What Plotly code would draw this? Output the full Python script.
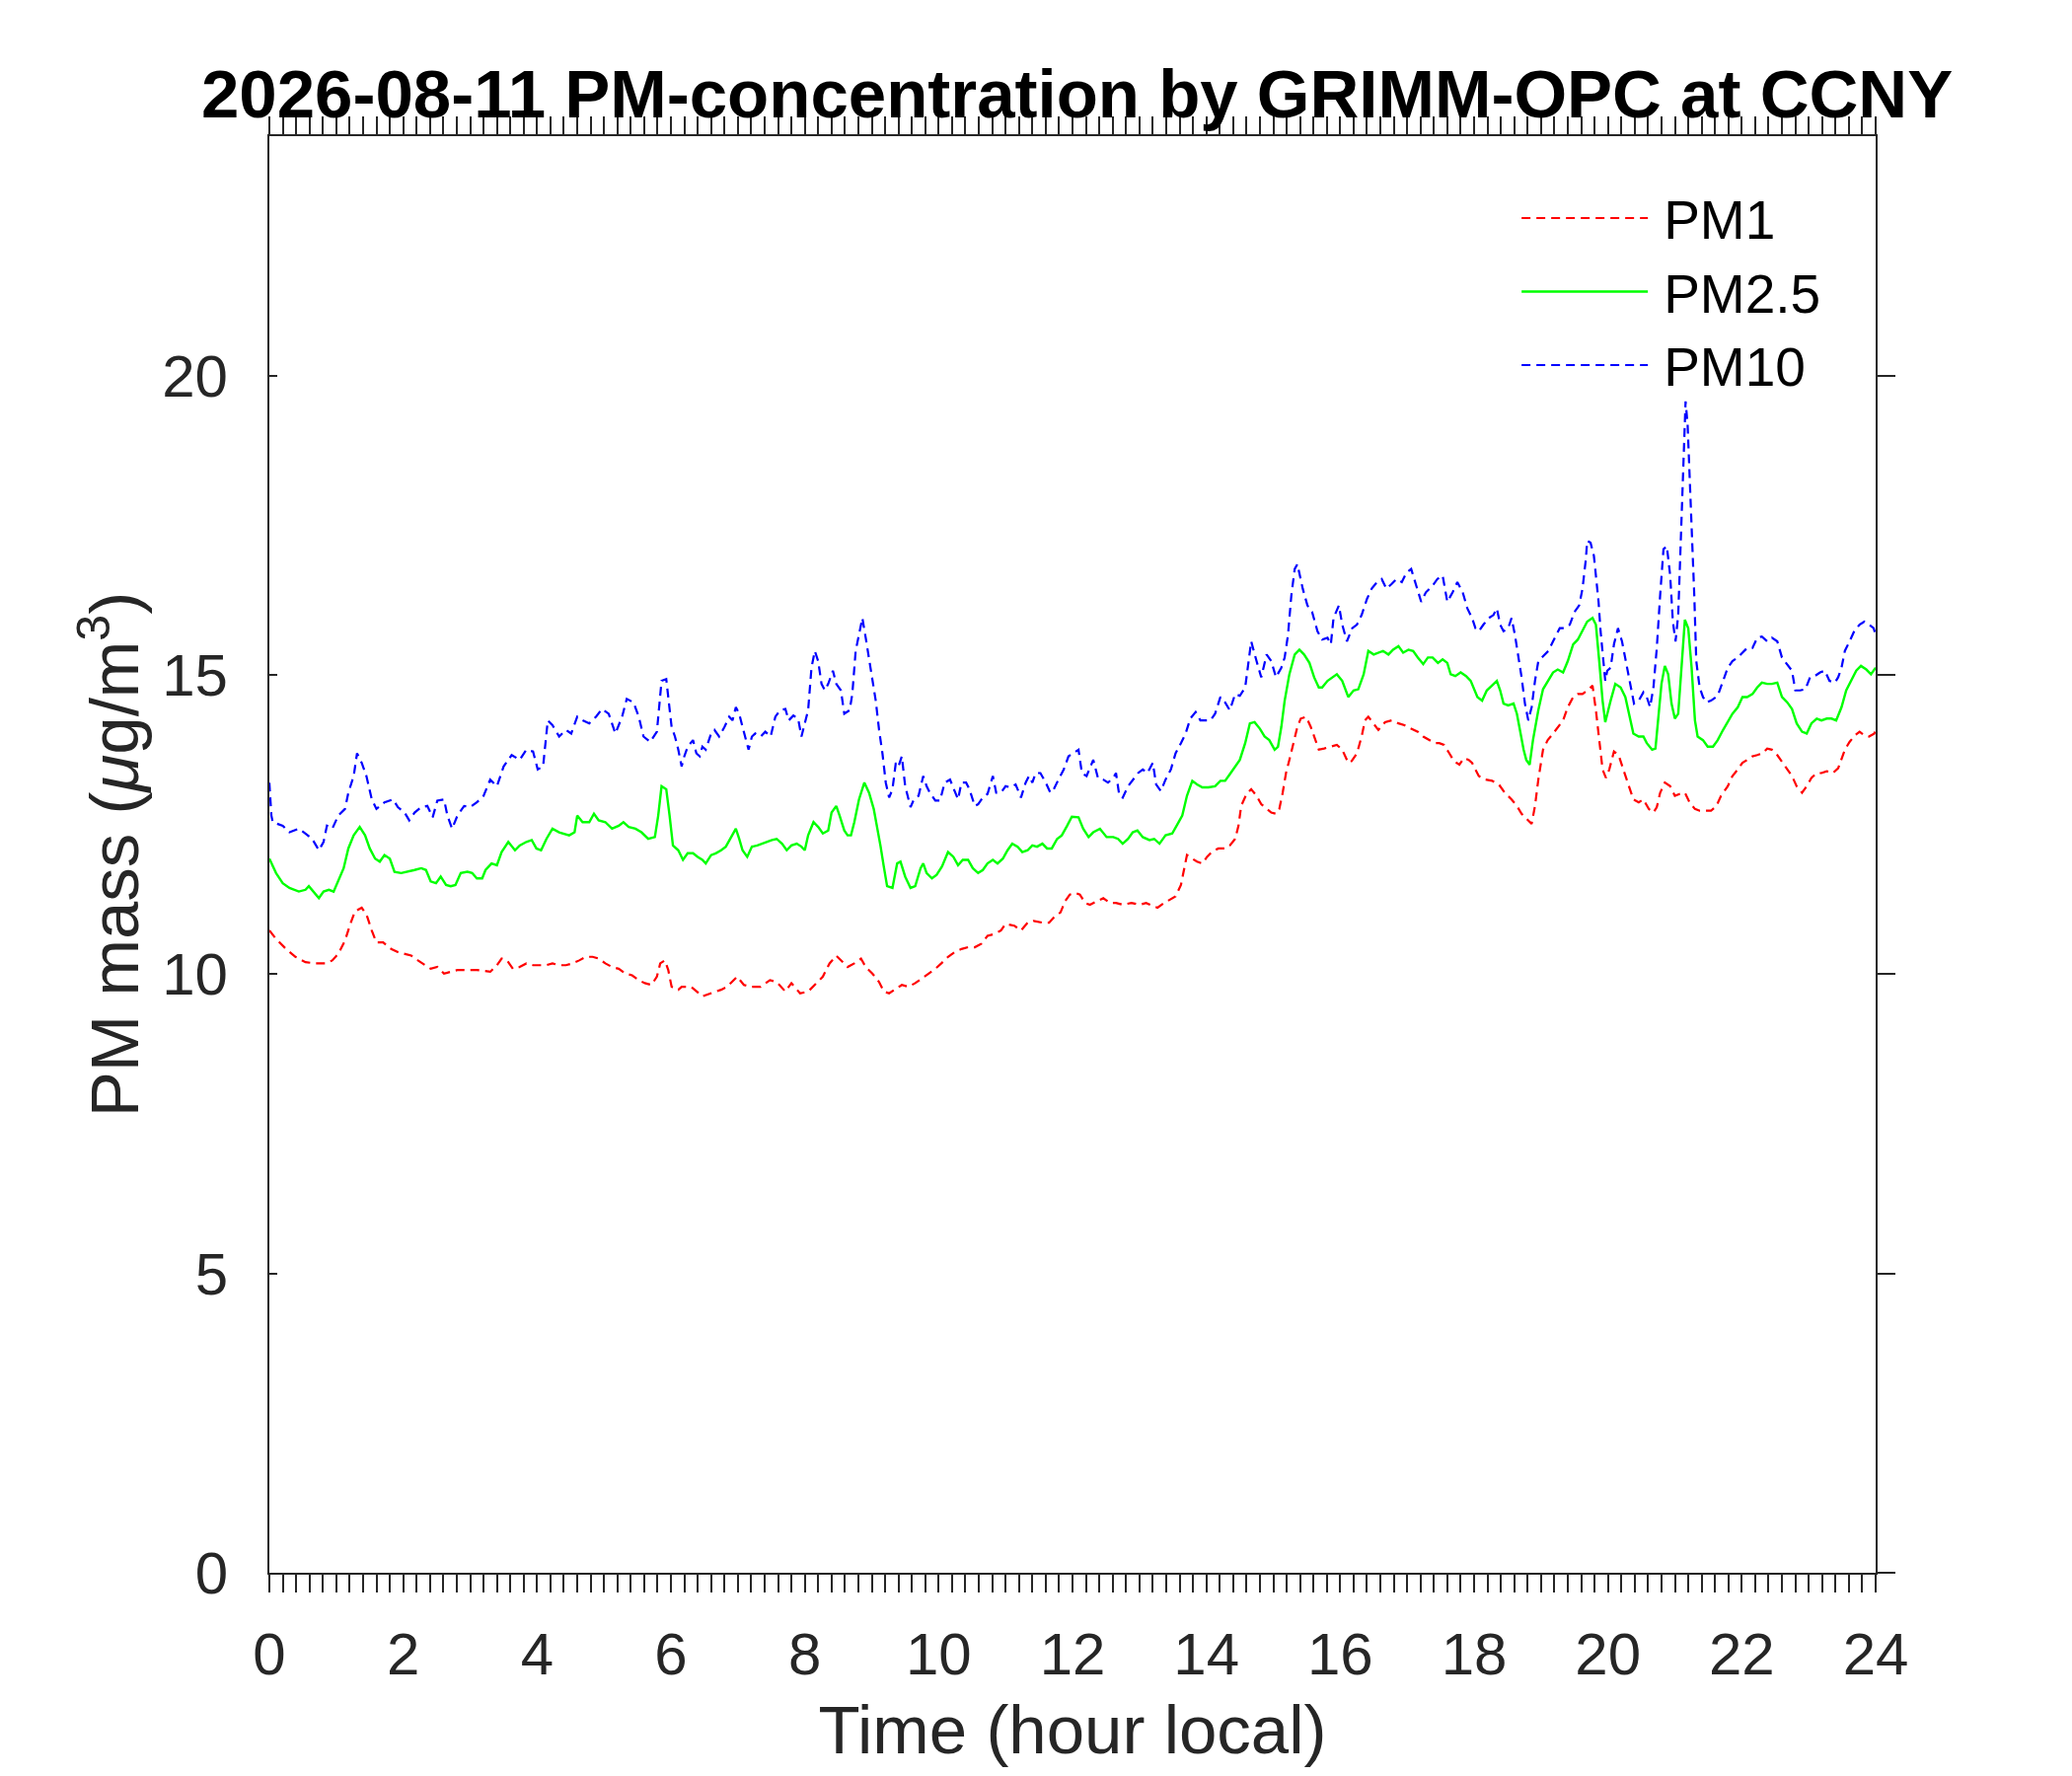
import plotly.graph_objects as go

# ---------------- data ----------------
pm10_hours = [0.00,0.03,0.05,0.20,0.30,0.44,0.54,0.64,0.74,0.81,0.86,0.94,1.03,1.13,1.18,1.26,1.31,1.38,1.45,1.53,1.60,1.72,1.85,1.92,2.02,2.09,2.17,2.27,2.36,2.44,2.51,2.61,2.66,2.73,2.81,2.91,3.00,3.10,3.20,3.30,3.40,3.50,3.62,3.74,3.84,3.94,4.01,4.09,4.16,4.23,4.33,4.43,4.51,4.60,4.68,4.78,4.88,4.97,5.07,5.17,5.27,5.34,5.44,5.52,5.59,5.69,5.79,5.86,5.93,
              5.98,6.01,6.06,6.11,6.16,6.20,6.25,6.33,6.38,6.43,6.47,6.52,6.60,6.65,6.72,6.80,6.87,6.92,6.97,7.02,7.07,7.11,7.16,7.21,7.26,7.34,7.41,7.49,7.56,7.63,7.71,7.76,7.83,7.90,7.95,8.00,8.05,8.10,8.15,8.20,8.25,8.30,8.35,8.42,8.47,8.54,8.59,8.67,8.71,8.76,8.81,8.86,8.91,8.96,9.01,9.06,9.11,9.16,9.21,9.26,9.31,9.36,9.40,9.45,9.50,9.58,9.63,9.70,9.77,9.82,9.87,9.95,10.02,10.09,10.17,10.22,10.29,10.34,10.41,10.46,10.54,10.59,10.66,10.73,10.81,10.86,10.93,11.00,11.08,11.15,11.23,11.30,11.35,11.40,11.45,11.52,11.60,11.67,11.72,11.79,11.87,11.94,12.01,
              12.09,12.14,12.21,12.31,12.38,12.46,12.53,12.61,12.65,12.70,12.75,12.83,12.90,12.98,13.05,13.12,13.20,13.25,13.32,13.39,13.47,13.54,13.62,13.69,13.76,13.84,13.91,13.98,14.06,14.13,14.21,14.28,14.35,14.43,14.50,14.58,14.62,14.67,14.75,14.82,14.90,14.97,15.04,15.12,15.17,15.22,15.27,15.32,15.36,15.44,15.51,15.58,15.66,15.73,15.81,15.86,15.90,15.98,16.03,16.10,16.18,16.25,16.32,16.40,16.47,16.55,16.62,16.69,16.77,16.84,16.92,16.99,17.06,17.14,17.21,17.28,17.38,17.45,17.53,17.60,17.68,17.75,17.83,17.90,17.97,
              18.02,18.07,18.14,18.22,18.29,18.34,18.39,18.44,18.51,18.56,18.61,18.66,18.71,18.76,18.81,18.86,18.91,18.96,19.03,19.11,19.18,19.28,19.35,19.43,19.50,19.57,19.62,19.67,19.69,19.74,19.79,19.82,19.86,19.89,19.93,19.96,19.99,20.04,20.09,20.15,20.21,20.29,20.34,20.39,20.46,20.53,20.58,20.63,20.68,20.73,20.78,20.83,20.88,20.93,20.97,21.01,21.05,21.09,21.12,21.16,21.19,21.22,21.26,21.29,21.32,21.37,21.42,21.47,21.54,21.64,21.72,21.79,21.86,21.94,22.01,22.08,22.16,22.23,22.30,22.38,22.45,22.53,22.60,22.68,22.75,22.80,22.87,22.95,23.02,23.09,23.17,23.24,23.31,23.39,23.44,23.49,23.54,23.61,23.68,23.76,23.83,23.90,23.97,24.00]
pm10_values = [13.20,12.65,12.54,12.48,12.37,12.43,12.35,12.26,12.07,12.21,12.48,12.43,12.65,12.76,13.03,13.31,13.69,13.53,13.31,12.92,12.76,12.87,12.92,12.79,12.70,12.57,12.70,12.79,12.81,12.62,12.90,12.92,12.65,12.43,12.65,12.81,12.79,12.87,12.98,13.25,13.14,13.47,13.66,13.58,13.75,13.72,13.42,13.47,14.24,14.16,13.97,14.08,14.02,14.30,14.24,14.19,14.30,14.43,14.35,14.02,14.30,14.60,14.54,14.30,13.97,13.88,14.05,14.90,14.93,
               14.40,14.13,13.97,13.75,13.47,13.64,13.80,13.91,13.69,13.64,13.80,13.75,14.02,14.08,13.97,14.13,14.30,14.24,14.46,14.35,14.13,13.97,13.75,13.97,14.02,13.97,14.05,13.97,14.30,14.41,14.43,14.24,14.32,14.27,13.97,14.19,14.41,15.12,15.40,15.23,14.85,14.74,14.85,15.07,14.85,14.74,14.35,14.41,14.68,15.40,15.67,15.95,15.62,15.29,14.96,14.57,14.08,13.69,13.20,12.95,13.09,13.53,13.47,13.64,13.14,12.79,12.92,12.98,13.31,13.14,13.03,12.90,12.90,13.20,13.25,13.12,12.92,13.20,13.20,13.09,12.81,12.84,12.95,13.01,13.31,13.03,13.03,13.14,13.12,13.17,12.95,13.20,13.31,13.20,13.36,13.36,13.20,13.03,13.09,13.25,13.42,13.64,13.69,
               13.75,13.36,13.31,13.58,13.28,13.25,13.20,13.28,13.36,12.98,12.95,13.14,13.25,13.36,13.42,13.36,13.53,13.17,13.06,13.25,13.42,13.69,13.86,14.02,14.27,14.38,14.24,14.24,14.24,14.35,14.63,14.54,14.41,14.68,14.65,14.79,15.18,15.56,15.23,14.96,15.34,15.23,14.96,15.12,15.29,15.67,16.33,16.77,16.85,16.44,16.16,16.05,15.73,15.59,15.62,15.51,15.95,16.16,15.84,15.56,15.78,15.84,16.00,16.27,16.44,16.55,16.60,16.44,16.52,16.60,16.55,16.71,16.77,16.49,16.22,16.38,16.49,16.60,16.66,16.22,16.38,16.55,16.38,16.11,15.95,
               15.78,15.73,15.84,15.95,16.00,16.11,15.84,15.73,15.78,15.95,15.67,15.34,14.96,14.52,14.24,14.46,14.90,15.23,15.31,15.40,15.56,15.78,15.78,15.84,16.05,16.16,16.44,16.93,17.24,17.21,16.99,16.66,16.22,15.73,15.23,14.90,15.07,15.12,15.51,15.78,15.56,15.12,14.79,14.52,14.57,14.71,14.63,14.46,14.79,15.45,16.33,17.10,17.15,16.66,15.89,15.56,16.00,17.43,18.53,19.57,19.19,18.36,17.43,16.33,15.23,14.79,14.63,14.54,14.57,14.65,14.90,15.12,15.23,15.29,15.37,15.45,15.45,15.62,15.64,15.56,15.62,15.56,15.29,15.18,15.07,14.74,14.74,14.76,14.96,14.98,15.04,15.07,14.90,14.87,14.96,15.12,15.40,15.56,15.73,15.84,15.89,15.84,15.78,15.67]

pm25_hours = [0.00,0.10,0.20,0.30,0.44,0.54,0.59,0.67,0.74,0.81,0.89,0.96,1.03,1.11,1.18,1.26,1.35,1.43,1.50,1.58,1.65,1.72,1.80,1.87,1.97,2.07,2.17,2.27,2.34,2.41,2.49,2.56,2.64,2.71,2.78,2.86,2.96,3.03,3.10,3.18,3.23,3.32,3.40,3.47,3.57,3.67,3.74,3.84,3.92,3.99,4.06,4.14,4.23,4.33,4.41,4.48,4.56,4.60,4.68,4.78,4.85,4.92,5.02,5.12,5.22,5.29,5.37,5.47,5.56,5.66,5.76,5.81,5.86,5.93,5.98,
              6.03,6.11,6.18,6.25,6.33,6.40,6.47,6.52,6.60,6.67,6.75,6.82,6.89,6.97,7.02,7.07,7.14,7.21,7.29,7.36,7.44,7.51,7.58,7.66,7.73,7.80,7.88,7.95,8.00,8.05,8.13,8.20,8.27,8.35,8.40,8.47,8.52,8.59,8.64,8.69,8.74,8.81,8.89,8.96,9.03,9.08,9.13,9.18,9.23,9.31,9.38,9.43,9.50,9.58,9.65,9.73,9.77,9.82,9.90,9.97,10.05,10.14,10.22,10.29,10.36,10.44,10.51,10.59,10.66,10.73,10.81,10.88,10.96,11.03,11.10,11.18,11.25,11.33,11.40,11.47,11.55,11.62,11.69,11.77,11.84,11.92,11.99,
              12.09,12.16,12.24,12.31,12.41,12.51,12.61,12.68,12.75,12.83,12.90,12.97,13.05,13.15,13.22,13.30,13.39,13.49,13.57,13.64,13.71,13.79,13.86,13.94,14.03,14.13,14.21,14.28,14.35,14.43,14.50,14.58,14.65,14.72,14.80,14.87,14.94,15.02,15.07,15.12,15.17,15.24,15.32,15.39,15.46,15.54,15.61,15.68,15.73,15.81,15.88,15.95,16.03,16.08,16.12,16.20,16.27,16.35,16.42,16.50,16.57,16.64,16.72,16.79,16.87,16.94,17.02,17.09,17.16,17.24,17.31,17.38,17.46,17.53,17.60,17.65,17.72,17.80,17.88,17.95,
              18.05,18.12,18.19,18.27,18.34,18.39,18.44,18.51,18.59,18.64,18.69,18.74,18.78,18.83,18.88,18.96,19.03,19.10,19.18,19.25,19.33,19.40,19.48,19.55,19.62,19.69,19.77,19.82,19.87,19.92,19.96,19.99,20.04,20.11,20.19,20.26,20.33,20.38,20.46,20.53,20.58,20.66,20.71,20.75,20.80,20.85,20.90,20.95,21.00,21.05,21.10,21.15,21.20,21.25,21.30,21.34,21.42,21.49,21.57,21.64,21.72,21.79,21.86,21.94,22.01,22.08,22.16,22.23,22.30,22.38,22.45,22.53,22.60,22.68,22.75,22.82,22.90,22.97,23.04,23.12,23.19,23.27,23.34,23.41,23.49,23.56,23.63,23.71,23.78,23.86,23.93,24.00]
pm25_values = [11.93,11.69,11.52,11.44,11.38,11.41,11.47,11.36,11.27,11.38,11.41,11.38,11.55,11.77,12.10,12.32,12.46,12.32,12.10,11.93,11.88,11.99,11.93,11.71,11.69,11.71,11.74,11.77,11.74,11.55,11.52,11.63,11.49,11.47,11.49,11.69,11.71,11.69,11.60,11.60,11.74,11.85,11.82,12.04,12.21,12.07,12.15,12.21,12.24,12.10,12.07,12.26,12.43,12.37,12.35,12.32,12.37,12.65,12.54,12.54,12.68,12.57,12.54,12.43,12.48,12.54,12.46,12.43,12.37,12.26,12.29,12.65,13.14,13.09,12.65,
               12.15,12.07,11.91,12.02,12.02,11.96,11.91,11.85,11.99,12.02,12.07,12.13,12.26,12.43,12.26,12.07,11.96,12.13,12.15,12.18,12.21,12.24,12.26,12.18,12.07,12.15,12.18,12.13,12.07,12.32,12.54,12.46,12.35,12.40,12.70,12.81,12.65,12.40,12.32,12.32,12.54,12.92,13.20,13.03,12.76,12.48,12.15,11.80,11.47,11.44,11.85,11.88,11.63,11.44,11.47,11.77,11.85,11.69,11.60,11.66,11.80,12.04,11.96,11.82,11.91,11.91,11.77,11.69,11.74,11.85,11.91,11.85,11.93,12.07,12.18,12.13,12.04,12.07,12.15,12.13,12.18,12.10,12.10,12.26,12.32,12.48,12.63,
               12.62,12.43,12.29,12.37,12.43,12.29,12.29,12.26,12.18,12.26,12.37,12.40,12.29,12.24,12.26,12.18,12.32,12.35,12.51,12.65,12.98,13.23,13.17,13.12,13.12,13.14,13.23,13.23,13.34,13.47,13.58,13.86,14.19,14.21,14.10,13.97,13.91,13.75,13.80,14.13,14.57,15.01,15.34,15.42,15.34,15.20,14.96,14.79,14.79,14.90,14.96,15.01,14.90,14.74,14.63,14.74,14.76,15.01,15.40,15.34,15.37,15.40,15.34,15.42,15.48,15.37,15.42,15.40,15.29,15.18,15.29,15.29,15.20,15.26,15.20,15.01,14.98,15.04,14.98,14.90,
               14.63,14.57,14.74,14.82,14.90,14.74,14.52,14.49,14.52,14.35,14.02,13.75,13.58,13.50,13.91,14.41,14.76,14.90,15.04,15.09,15.04,15.23,15.51,15.59,15.73,15.89,15.95,15.84,15.23,14.57,14.21,14.35,14.57,14.85,14.79,14.63,14.30,14.02,13.97,13.97,13.86,13.75,13.77,14.24,14.85,15.15,15.01,14.52,14.27,14.35,15.23,15.92,15.78,15.12,14.24,13.97,13.91,13.80,13.80,13.91,14.08,14.21,14.35,14.46,14.63,14.63,14.68,14.79,14.87,14.85,14.85,14.87,14.63,14.54,14.43,14.19,14.05,14.02,14.19,14.27,14.24,14.27,14.27,14.24,14.46,14.74,14.90,15.07,15.15,15.09,15.01,15.12]

pm1_hours = [0.00,0.10,0.25,0.39,0.54,0.69,0.84,0.94,1.03,1.13,1.21,1.28,1.38,1.45,1.53,1.60,1.70,1.82,1.92,2.02,2.12,2.22,2.32,2.41,2.51,2.61,2.71,2.81,2.91,3.10,3.30,3.40,3.47,3.55,3.64,3.74,3.84,3.94,4.04,4.14,4.23,4.33,4.43,4.53,4.63,4.73,4.83,4.92,5.02,5.12,5.22,5.32,5.42,5.52,5.61,5.71,5.79,5.84,5.91,5.96,
             6.01,6.11,6.16,6.30,6.47,6.60,6.75,6.84,6.99,7.09,7.19,7.34,7.48,7.58,7.71,7.80,7.93,8.05,8.17,8.27,8.37,8.47,8.57,8.64,8.74,8.84,8.91,9.01,9.11,9.18,9.26,9.36,9.45,9.55,9.65,9.75,9.85,9.95,10.04,10.14,10.24,10.34,10.44,10.54,10.64,10.73,10.83,10.93,11.00,11.13,11.23,11.33,11.42,11.55,11.65,11.74,11.82,11.89,11.96,12.04,
             12.11,12.19,12.26,12.36,12.46,12.56,12.65,12.75,12.88,13.00,13.10,13.20,13.27,13.37,13.47,13.54,13.62,13.66,13.71,13.79,13.86,13.94,14.01,14.08,14.18,14.28,14.35,14.43,14.48,14.52,14.60,14.67,14.75,14.82,14.90,14.97,15.04,15.09,15.14,15.19,15.24,15.31,15.36,15.41,15.49,15.56,15.61,15.68,15.76,15.86,15.95,16.03,16.08,16.12,16.17,16.25,16.32,16.37,16.42,16.50,16.57,16.67,16.77,16.87,16.96,17.06,17.16,17.24,17.33,17.41,17.48,17.55,17.63,17.70,17.78,17.85,17.92,17.97,
             18.07,18.17,18.27,18.37,18.46,18.56,18.64,18.71,18.78,18.86,18.91,18.96,19.03,19.10,19.18,19.25,19.33,19.40,19.48,19.55,19.62,19.69,19.77,19.82,19.87,19.92,19.97,20.02,20.09,20.16,20.23,20.31,20.38,20.46,20.53,20.61,20.68,20.73,20.78,20.85,20.93,21.00,21.07,21.15,21.22,21.30,21.37,21.44,21.54,21.62,21.69,21.79,21.86,21.94,22.01,22.08,22.16,22.23,22.31,22.38,22.45,22.53,22.60,22.67,22.75,22.82,22.90,22.97,23.04,23.12,23.19,23.27,23.36,23.44,23.49,23.54,23.61,23.69,23.76,23.83,23.90,23.98,24.00]
pm1_values = [10.73,10.59,10.42,10.29,10.20,10.18,10.18,10.23,10.34,10.56,10.84,11.05,11.11,11.00,10.73,10.53,10.53,10.42,10.37,10.34,10.31,10.23,10.15,10.09,10.12,10.01,10.04,10.07,10.07,10.07,10.04,10.15,10.26,10.23,10.09,10.12,10.18,10.15,10.15,10.15,10.18,10.15,10.15,10.18,10.23,10.29,10.29,10.26,10.18,10.12,10.09,10.01,9.98,9.90,9.85,9.82,9.96,10.18,10.23,10.07,
              9.79,9.74,9.79,9.79,9.63,9.68,9.74,9.79,9.96,9.82,9.79,9.79,9.90,9.87,9.71,9.85,9.68,9.71,9.85,9.96,10.18,10.31,10.20,10.12,10.18,10.26,10.12,10.01,9.87,9.71,9.68,9.76,9.82,9.79,9.85,9.93,10.01,10.09,10.18,10.29,10.37,10.42,10.45,10.45,10.51,10.64,10.67,10.73,10.84,10.81,10.73,10.86,10.89,10.86,10.86,10.97,11.03,11.22,11.33,11.36,
              11.33,11.19,11.16,11.22,11.27,11.19,11.19,11.16,11.19,11.16,11.19,11.14,11.11,11.19,11.25,11.30,11.49,11.71,11.99,11.93,11.88,11.85,11.96,12.04,12.10,12.10,12.15,12.26,12.48,12.81,13.01,13.09,12.98,12.84,12.76,12.70,12.68,12.76,13.03,13.36,13.58,13.91,14.13,14.27,14.30,14.13,13.97,13.75,13.77,13.80,13.83,13.75,13.61,13.53,13.56,13.69,13.97,14.24,14.30,14.19,14.08,14.21,14.24,14.19,14.16,14.10,14.05,13.97,13.91,13.86,13.86,13.83,13.69,13.56,13.50,13.61,13.58,13.53,
              13.31,13.25,13.23,13.17,13.03,12.92,12.81,12.68,12.60,12.51,12.81,13.25,13.75,13.91,14.02,14.13,14.24,14.46,14.63,14.68,14.68,14.74,14.82,14.41,13.86,13.42,13.28,13.42,13.72,13.66,13.42,13.14,12.92,12.87,12.92,12.76,12.70,12.79,13.03,13.20,13.14,12.98,13.01,13.03,12.87,12.76,12.73,12.73,12.73,12.81,12.98,13.14,13.31,13.42,13.53,13.58,13.64,13.66,13.69,13.77,13.75,13.66,13.55,13.42,13.31,13.14,13.03,13.14,13.28,13.36,13.36,13.39,13.36,13.44,13.58,13.75,13.88,13.99,14.05,13.99,13.97,14.02,14.10]

series_names = ["PM1", "PM2.5", "PM10"]
x_ticks = [0, 2, 4, 6, 8, 10, 12, 14, 16, 18, 20, 22, 24]
y_ticks = [0, 5, 10, 15, 20]
title_text = "2026-08-11 PM-concentration by GRIMM-OPC at CCNY"
x_title = "Time (hour local)"
y_title = "PM mass (<i>μ</i>g/m<sup>3</sup>)"

# ---------------- figure ----------------
AX = "#262626"
FONT = "Liberation Sans, Arial, sans-serif"
W, H = 2084, 1784   # page body keeps an 8 px margin in a 2100x1800 window
GAP = "\u2009"      # thin space between legend sample and label

fig = go.Figure()
fig.add_trace(go.Scatter(x=pm1_hours, y=pm1_values, name=GAP + series_names[0], mode="lines",
                         line=dict(color="#FF0000", width=2.2, dash="9px,6px")))
fig.add_trace(go.Scatter(x=pm25_hours, y=pm25_values, name=GAP + series_names[1], mode="lines",
                         line=dict(color="#00FF00", width=2.4)))
fig.add_trace(go.Scatter(x=pm10_hours, y=pm10_values, name=GAP + series_names[2], mode="lines",
                         line=dict(color="#0000FF", width=2.2, dash="9px,6px")))
# right-hand axis carrier (same PM10 data, invisible)
fig.add_trace(go.Scatter(x=pm10_hours, y=pm10_values, yaxis="y2", mode="lines",
                         line=dict(color="rgba(0,0,0,0)", width=0), showlegend=False, hoverinfo="skip"))

fig.update_layout(
    width=W, height=H,
    margin=dict(l=265, r=191, t=130, b=198, autoexpand=False),
    paper_bgcolor="white", plot_bgcolor="white",
    font=dict(family=FONT, color=AX),
    title=dict(text="<b>" + title_text + "</b>", x=0.5028, xref="paper", xanchor="center",
               y=1 - 87 / H, yref="container", yanchor="middle",
               font=dict(family=FONT, size=69, color="black")),
    showlegend=True,
    legend=dict(x=0.7765, y=0.972, xanchor="left", yanchor="top",
                bgcolor="rgba(0,0,0,0)", borderwidth=0,
                font=dict(family=FONT, size=55, color="black"),
                itemwidth=128, tracegroupgap=0),
    xaxis=dict(range=[0, 24], tickvals=x_ticks, ticks="outside", ticklen=18, tickwidth=2,
               tickcolor=AX, showline=True, linecolor=AX, linewidth=2, mirror="allticks",
               showgrid=False, zeroline=False,
               minor=dict(dtick=0.2, ticks="outside", ticklen=9, tickwidth=2, tickcolor=AX, showgrid=False),
               tickfont=dict(family=FONT, size=60, color=AX), ticklabelstandoff=11,
               title=dict(text=x_title, font=dict(family=FONT, size=69, color=AX), standoff=24),
               automargin=True),
    yaxis=dict(range=[0, 24], tickvals=y_ticks, ticks="inside", ticklen=8, tickwidth=2,
               tickcolor=AX, showline=True, linecolor=AX, linewidth=2, mirror=False,
               showgrid=False, zeroline=False,
               tickfont=dict(family=FONT, size=60, color=AX), ticklabelstandoff=28,
               title=dict(text=y_title, font=dict(family=FONT, size=69, color=AX), standoff=1),
               automargin=False),
    yaxis2=dict(range=[0, 24], tickvals=y_ticks, ticks="outside", ticklen=18, tickwidth=2,
                tickcolor=AX, showline=True, linecolor=AX, linewidth=2, overlaying="y",
                side="right", anchor="x", showticklabels=False, showgrid=False, zeroline=False),
)

fig.write_html("out.html")
